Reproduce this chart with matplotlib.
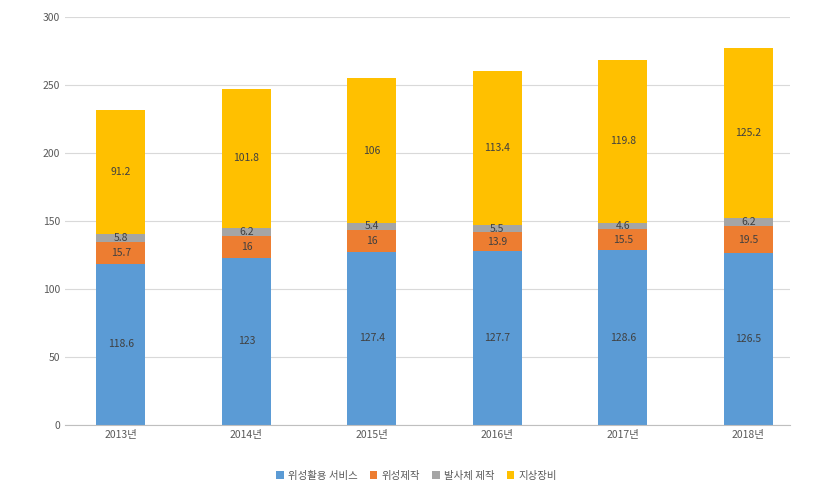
import matplotlib
matplotlib.use("Agg")
from matplotlib import pyplot as plt
import numpy as np

plt.rcParams['font.family'] = 'Noto Sans CJK KR'

years = ['2013년', '2014년', '2015년', '2016년', '2017년', '2018년']
service = [118.6, 123, 127.4, 127.7, 128.6, 126.5]
sat_make = [15.7, 16, 16, 13.9, 15.5, 19.5]
launcher = [5.8, 6.2, 5.4, 5.5, 4.6, 6.2]
ground = [91.2, 101.8, 106, 113.4, 119.8, 125.2]

names = ['위성활용 서비스', '위성제작', '발사체 제작', '지상장비']
colors = ['#5B9BD5', '#ED7D31', '#A5A5A5', '#FFC000']

fig = plt.figure(figsize=(8.33, 5.0), dpi=100)
ax = fig.add_axes([0.078, 0.15, 0.87, 0.816])

x = np.arange(len(years))
bottom = np.zeros(len(years))
for vals, name, c in zip([service, sat_make, launcher, ground], names, colors):
    ax.bar(x, vals, 0.39, bottom=bottom, color=c, label=name, zorder=2)
    for xi, b, v in zip(x, bottom, vals):
        ax.text(xi, b + v / 2, f'{v:g}', ha='center', va='center', fontsize=7.5, color='#404040', zorder=3)
    bottom += vals

ax.set_ylim(0, 300)
ax.set_yticks(range(0, 301, 50))
ax.set_xlim(-0.446, 5.33)
ax.set_xticks(x)
ax.set_xticklabels(years)
ax.tick_params(labelsize=7.5, colors='#595959', length=0)
ax.yaxis.grid(True, color='#D9D9D9', linewidth=0.8, zorder=0)
for s in ['top', 'right', 'left']:
    ax.spines[s].set_visible(False)
ax.spines['bottom'].set_color('#BFBFBF')

fig.legend(loc='lower center', bbox_to_anchor=(0.5, 0.02), ncol=4, frameon=False,
           fontsize=7.5, handlelength=0.7, handleheight=0.7, columnspacing=1.2, handletextpad=0.4,
           labelcolor='#595959')

fig.savefig('out.png', dpi=100)
